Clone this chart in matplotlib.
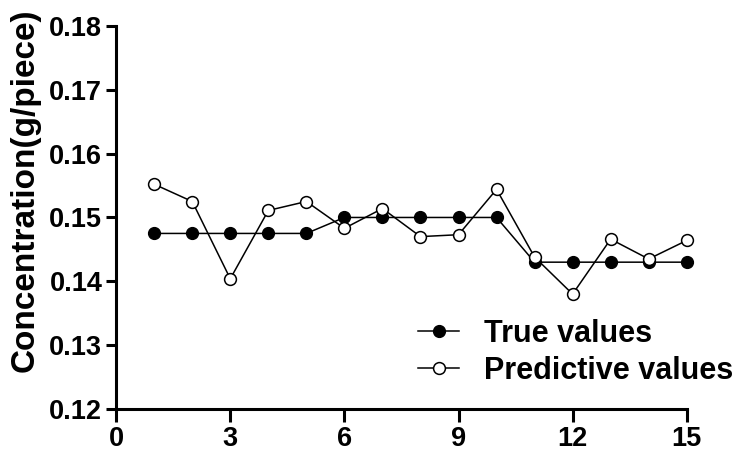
import matplotlib.pyplot as plt

plt.rcParams['font.family'] = ['Liberation Sans', 'DejaVu Sans']
plt.rcParams['font.weight'] = 'bold'

sample = list(range(1, 16))
true_values = [0.1475, 0.1475, 0.1475, 0.1475, 0.1475,
               0.150, 0.150, 0.150, 0.150, 0.150,
               0.143, 0.143, 0.143, 0.143, 0.143]
predictive_values = [0.1552, 0.1525, 0.1404, 0.1511, 0.1525,
                     0.1483, 0.1514, 0.1470, 0.1473, 0.1544,
                     0.1438, 0.1380, 0.1466, 0.1435, 0.1464]

fig = plt.figure(figsize=(7.4, 4.54), dpi=100)
ax = fig.add_axes([0.157, 0.099, 0.771, 0.844])

ax.plot(sample, true_values, color='black', lw=1.1, marker='o', ms=8.5,
        mfc='black', mec='black', label='True values', clip_on=False)
ax.plot(sample, predictive_values, color='black', lw=1.1, marker='o', ms=8.5,
        mfc='white', mec='black', mew=1.1, label='Predictive values', clip_on=False)

ax.set_xlim(0, 15)
ax.set_ylim(0.12, 0.18)
ax.set_xticks([0, 3, 6, 9, 12, 15])
ax.set_yticks([0.12, 0.13, 0.14, 0.15, 0.16, 0.17, 0.18])
ax.set_yticklabels(['0.12', '0.13', '0.14', '0.15', '0.16', '0.17', '0.18'])

for s in ['top', 'right']:
    ax.spines[s].set_visible(False)
for s in ['left', 'bottom']:
    ax.spines[s].set_linewidth(2.2)

ax.tick_params(axis='both', width=2.2, length=7, labelsize=19.5, pad=3)
ax.tick_params(axis='x', length=9)
ax.set_ylabel('Concentration(g/piece)', fontsize=24, fontweight='bold')
ax.yaxis.set_label_coords(-0.132, 0.57)

ax.legend(loc='center left', bbox_to_anchor=(0.529, 0.148), frameon=False,
          fontsize=22, handlelength=1.35, handletextpad=0.8, labelspacing=0.25,
          borderaxespad=0, borderpad=0)

fig.savefig('out.png', dpi=100)
